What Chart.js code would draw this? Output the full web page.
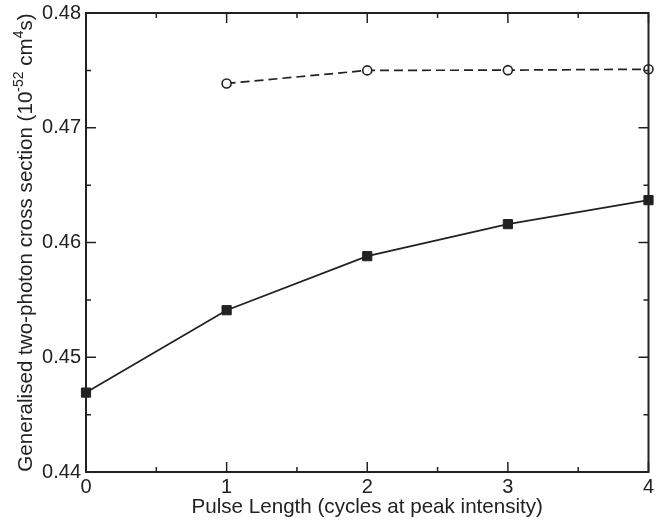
<!DOCTYPE html>
<html>
<head>
<meta charset="utf-8">
<script src="https://cdn.jsdelivr.net/npm/chart.js@4.4.1/dist/chart.umd.min.js"></script>
<style>
  html, body { margin: 0; padding: 0; background: #fff; }
  #wrap { width: 656px; height: 520px; }
</style>
</head>
<body>
<div id="wrap"><canvas id="c" width="656" height="520"></canvas></div>
<script>
// ---- data ----
const pulseLengths = [0, 1, 2, 3, 4];
const solidSeries = [0.44692, 0.45410, 0.45881, 0.46160, 0.46369];
const dashedX = [1, 2, 3, 4];
const dashedSeries = [0.47386, 0.47500, 0.47502, 0.47510];
const xTicks = [0, 1, 2, 3, 4];
const yTicks = [0.44, 0.45, 0.46, 0.47, 0.48];
const xTitle = 'Pulse Length (cycles at peak intensity)';
const yTitleParts = [
  { t: 'Generalised two-photon cross section (10', sup: false },
  { t: '-52', sup: true },
  { t: ' cm', sup: false },
  { t: '4', sup: true },
  { t: 's)', sup: false }
];

const INK = '#222222';
const FONT = 'Liberation Sans, Arial, Helvetica, sans-serif';

const framePlugin = {
  id: 'frameTicks',
  afterDatasetsDraw(chart) {
    const { ctx, chartArea: a, scales } = chart;
    const xs = scales.x, ys = scales.y;
    ctx.save();
    ctx.strokeStyle = INK;
    ctx.lineWidth = 2;
    ctx.strokeRect(a.left, a.top, a.right - a.left, a.bottom - a.top);
    ctx.lineWidth = 1.5;
    ctx.beginPath();
    for (let i = 0; i < xTicks.length; i++) {
      const px = xs.getPixelForValue(xTicks[i]);
      ctx.moveTo(px, a.bottom); ctx.lineTo(px, a.bottom - 10);
      ctx.moveTo(px, a.top); ctx.lineTo(px, a.top + 10);
      if (i < xTicks.length - 1) {
        const mx = xs.getPixelForValue((xTicks[i] + xTicks[i + 1]) / 2);
        ctx.moveTo(mx, a.bottom); ctx.lineTo(mx, a.bottom - 5);
        ctx.moveTo(mx, a.top); ctx.lineTo(mx, a.top + 5);
      }
    }
    for (let i = 0; i < yTicks.length; i++) {
      const py = ys.getPixelForValue(yTicks[i]);
      ctx.moveTo(a.left, py); ctx.lineTo(a.left + 10, py);
      ctx.moveTo(a.right, py); ctx.lineTo(a.right - 10, py);
      if (i < yTicks.length - 1) {
        const my = ys.getPixelForValue((yTicks[i] + yTicks[i + 1]) / 2);
        ctx.moveTo(a.left, my); ctx.lineTo(a.left + 5, my);
        ctx.moveTo(a.right, my); ctx.lineTo(a.right - 5, my);
      }
    }
    ctx.stroke();

    // x title
    ctx.fillStyle = INK;
    ctx.font = '20.6px ' + FONT;
    ctx.textAlign = 'center';
    ctx.textBaseline = 'alphabetic';
    ctx.fillText(xTitle, (a.left + a.right) / 2, 513);

    // y title with superscripts
    const big = '20.6px ' + FONT, small = '14px ' + FONT;
    let total = 0;
    const widths = yTitleParts.map(p => {
      ctx.font = p.sup ? small : big;
      const w = ctx.measureText(p.t).width;
      total += w;
      return w;
    });
    ctx.translate(32, (a.top + a.bottom) / 2);
    ctx.rotate(-Math.PI / 2);
    ctx.textAlign = 'left';
    let cx = -total / 2;
    yTitleParts.forEach((p, i) => {
      ctx.font = p.sup ? small : big;
      ctx.fillText(p.t, cx, p.sup ? -9 : 0);
      cx += widths[i];
    });
    ctx.restore();
  }
};

new Chart(document.getElementById('c'), {
  type: 'scatter',
  data: {
    datasets: [
      {
        label: 'solid',
        data: pulseLengths.map((x, i) => ({ x, y: solidSeries[i] })),
        showLine: true,
        borderColor: INK,
        borderWidth: 1.8,
        backgroundColor: INK,
        pointStyle: 'rect',
        pointRadius: 6.5,
        pointBorderWidth: 1,
        pointBorderColor: INK,
        pointBackgroundColor: INK,
        clip: false
      },
      {
        label: 'dashed',
        data: dashedX.map((x, i) => ({ x, y: dashedSeries[i] })),
        showLine: true,
        borderColor: INK,
        borderWidth: 1.7,
        borderDash: [9, 5],
        pointStyle: 'circle',
        pointRadius: 4.5,
        pointBorderWidth: 1.6,
        pointBorderColor: INK,
        pointBackgroundColor: '#ffffff',
        clip: false
      }
    ]
  },
  options: {
    responsive: false,
    animation: false,
    devicePixelRatio: 1,
    layout: { padding: { left: 0, right: 3, top: 13, bottom: 0 } },
    plugins: { legend: { display: false }, tooltip: { enabled: false } },
    scales: {
      x: {
        type: 'linear',
        min: 0, max: 4,
        grid: { display: false, drawTicks: false },
        border: { display: false },
        ticks: {
          stepSize: 1,
          padding: 3,
          color: INK,
          font: { family: FONT, size: 20 },
          maxRotation: 0,
          callback: v => String(v)
        },
        afterFit(s) { s.height = 48; s.paddingLeft = 0; s.paddingRight = 0; }
      },
      y: {
        type: 'linear',
        min: 0.44, max: 0.48,
        grid: { display: false, drawTicks: false },
        border: { display: false },
        ticks: {
          stepSize: 0.01,
          padding: 5,
          color: INK,
          font: { family: FONT, size: 20 },
          callback: v => Number(v).toFixed(2)
        },
        afterFit(s) { s.width = 86; s.paddingTop = 0; s.paddingBottom = 0; }
      }
    }
  },
  plugins: [framePlugin]
});
</script>
</body>
</html>
